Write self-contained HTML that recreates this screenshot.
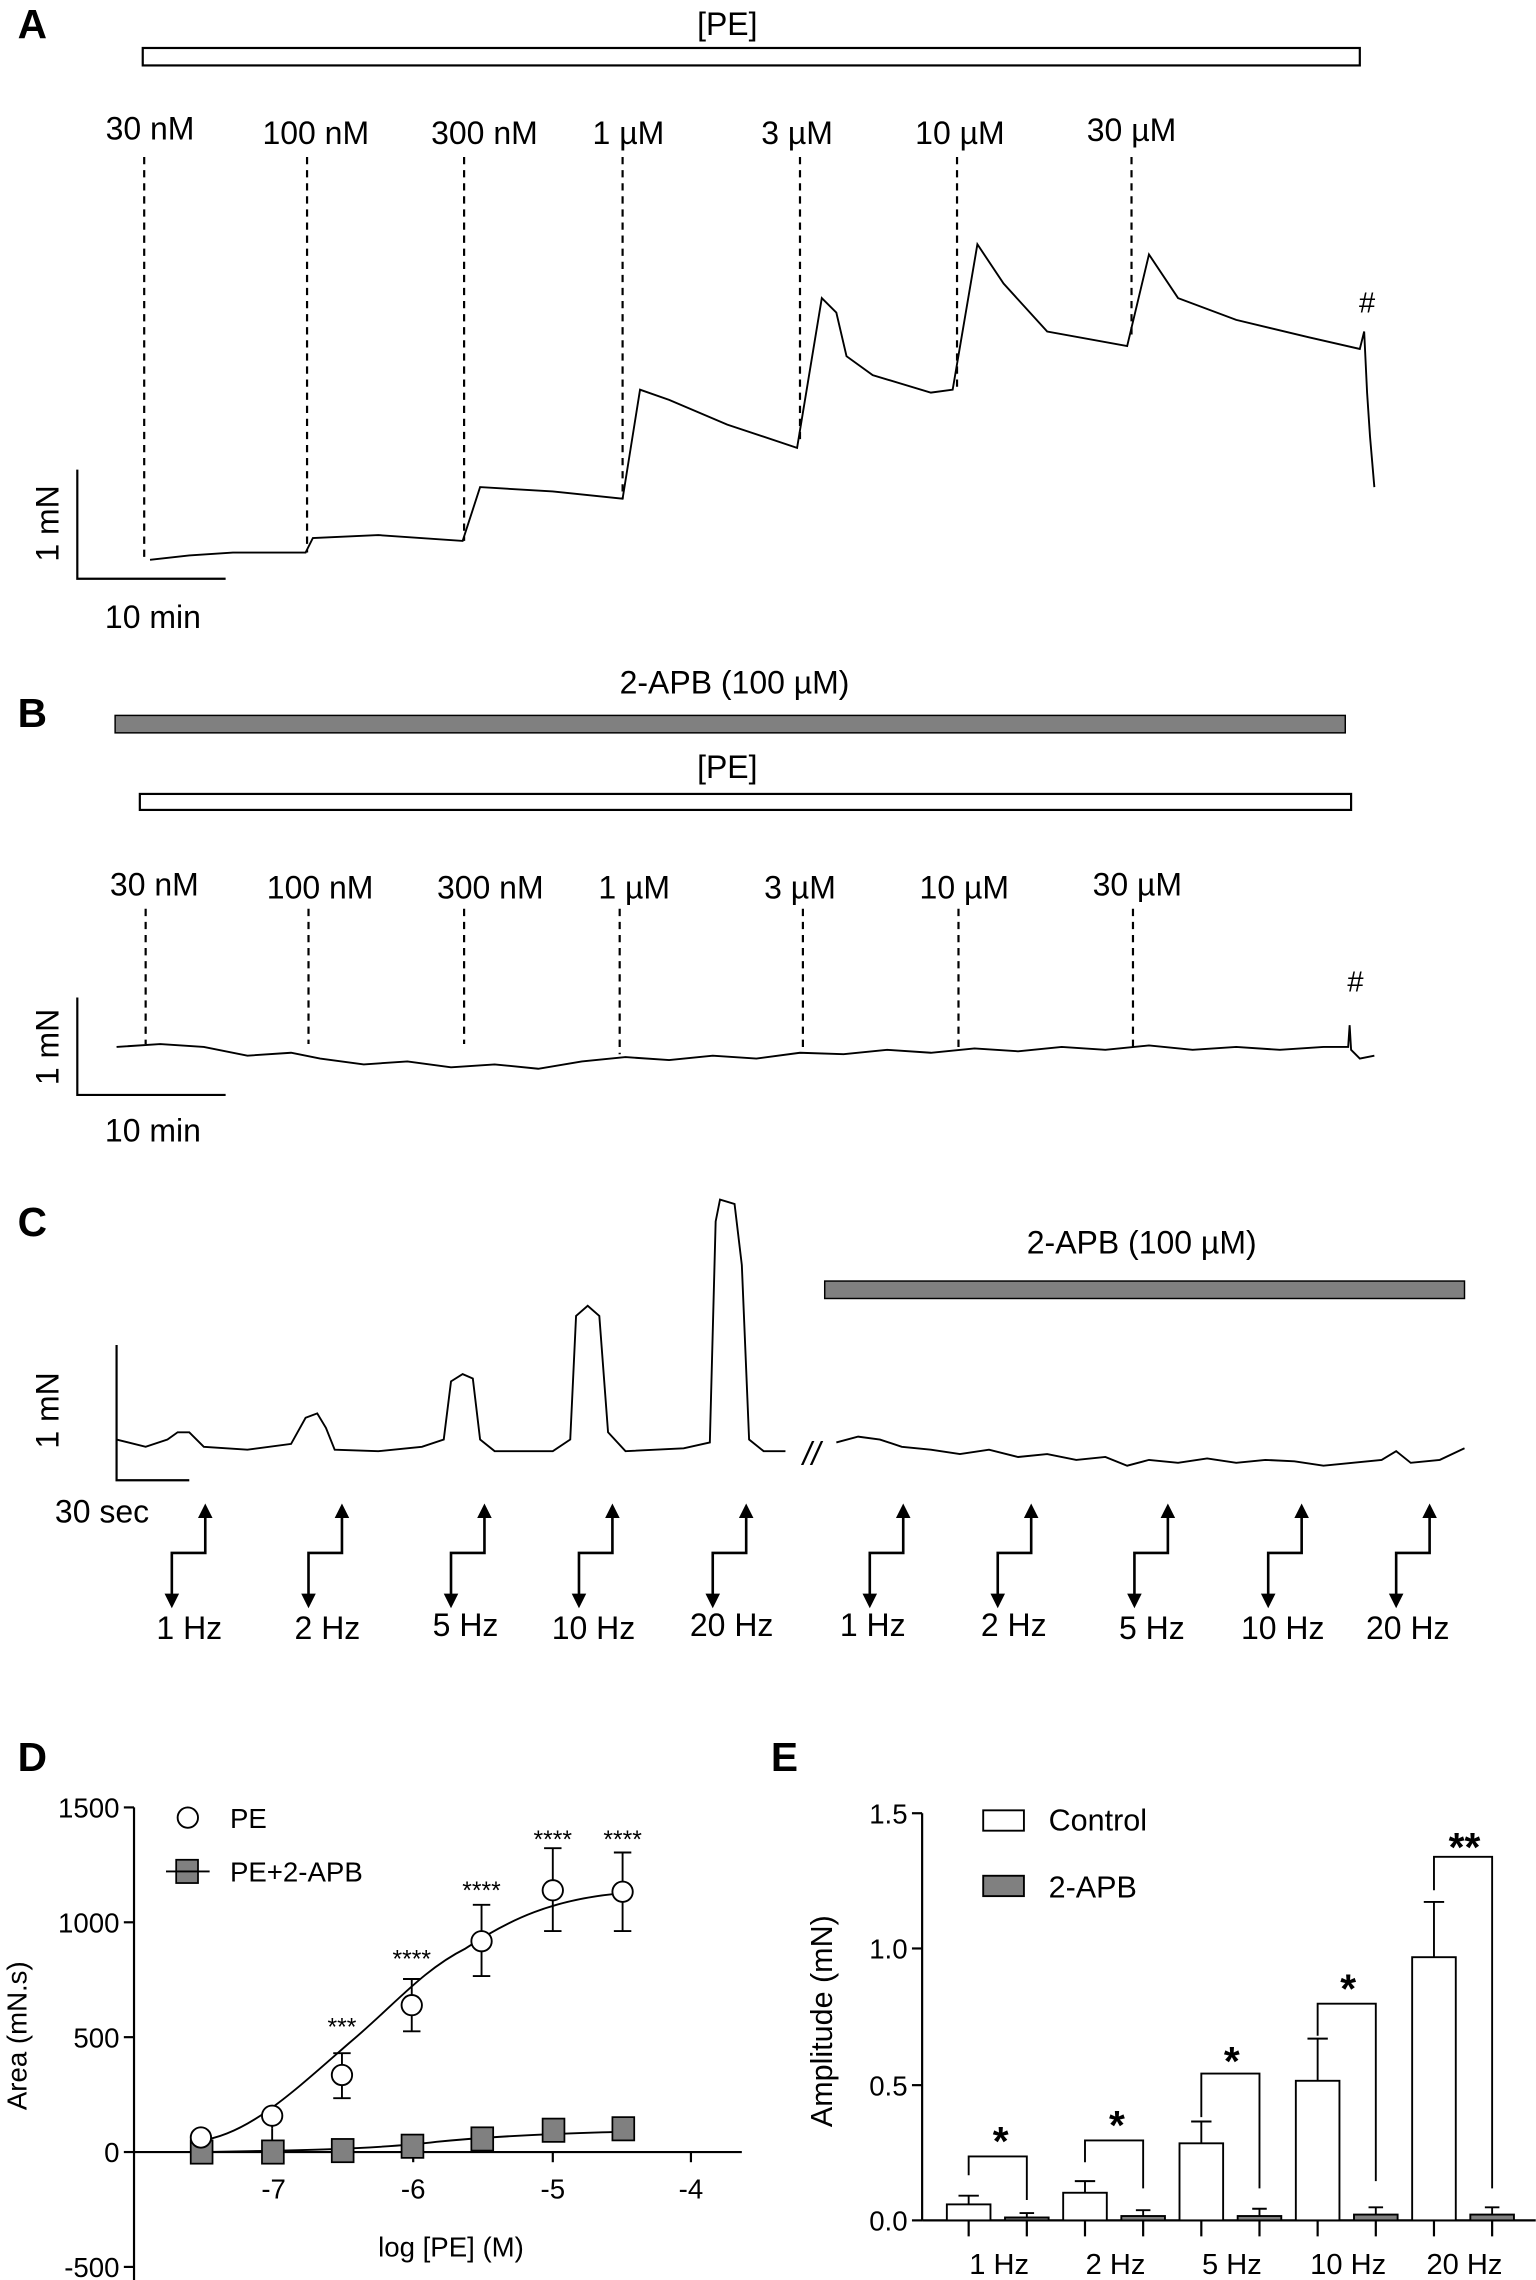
<!DOCTYPE html>
<html><head><meta charset="utf-8"><style>html,body{margin:0;padding:0;background:#fff}svg{display:block}</style></head>
<body>
<svg width="1536" height="2280" viewBox="0 0 1056 1568" xmlns="http://www.w3.org/2000/svg" font-family="Liberation Sans, sans-serif">
<g font-weight="bold" font-size="28"><text x="12" y="26">A</text><text x="12" y="500">B</text><text x="12" y="850">C</text><text x="12" y="1218">D</text><text x="530" y="1218">E</text></g>
<!-- Panel A -->
<g font-size="22" text-anchor="middle">
<text x="500" y="24">[PE]</text>
<rect x="98" y="33" width="837" height="12" fill="#fff" stroke="#000" stroke-width="1.5"/>
<text x="103" y="96">30 nM</text><text x="217" y="99">100 nM</text><text x="333" y="99">300 nM</text><text x="432" y="99">1 µM</text><text x="548" y="99">3 µM</text><text x="660" y="99">10 µM</text><text x="778" y="97">30 µM</text>
<text x="940" y="215" font-size="20">#</text>
</g>
<g stroke="#000" stroke-width="1.5" stroke-dasharray="5,4">
<line x1="99" y1="108" x2="99" y2="385"/><line x1="211" y1="108" x2="211" y2="380"/><line x1="319" y1="108" x2="319" y2="372"/><line x1="428" y1="108" x2="428" y2="343"/><line x1="550" y1="108" x2="550" y2="305"/><line x1="658" y1="108" x2="658" y2="268"/><line x1="778" y1="108" x2="778" y2="232"/>
</g>
<polyline fill="none" stroke="#000" stroke-width="1.3" points="103,385 130,382 160,380 210,380 215,370 260,368 318,372 330,335 380,338 428,343 440,268 460,275 500,292 548,308 565,205 575,215 582,245 600,258 640,270 655,268 672,168 690,195 720,228 775,238 790,175 810,205 850,220 900,232 935,240 938,228 940,270 942,300 945,335"/>
<g stroke="#000" stroke-width="1.5" fill="none"><polyline points="53,323 53,398 155,398"/></g>
<text x="40" y="360" font-size="22" text-anchor="middle" transform="rotate(-90 40 360)">1 mN</text>
<text x="105" y="432" font-size="22" text-anchor="middle">10 min</text>
<!-- Panel B -->
<g font-size="22" text-anchor="middle">
<text x="505" y="477">2-APB (100 µM)</text>
<rect x="79" y="492" width="846" height="12" fill="#808080" stroke="#000" stroke-width="1"/>
<text x="500" y="535">[PE]</text>
<rect x="96" y="546" width="833" height="11" fill="#fff" stroke="#000" stroke-width="1.5"/>
<text x="106" y="616">30 nM</text><text x="220" y="618">100 nM</text><text x="337" y="618">300 nM</text><text x="436" y="618">1 µM</text><text x="550" y="618">3 µM</text><text x="663" y="618">10 µM</text><text x="782" y="616">30 µM</text>
<text x="932" y="682" font-size="20">#</text>
</g>
<g stroke="#000" stroke-width="1.5" stroke-dasharray="5,4">
<line x1="100" y1="625" x2="100" y2="718"/><line x1="212" y1="625" x2="212" y2="718"/><line x1="319" y1="625" x2="319" y2="718"/><line x1="426" y1="625" x2="426" y2="725"/><line x1="552" y1="625" x2="552" y2="722"/><line x1="659" y1="625" x2="659" y2="722"/><line x1="779" y1="625" x2="779" y2="722"/>
</g>
<polyline fill="none" stroke="#000" stroke-width="1.3" points="80,720 110,718 140,720 170,726 200,724 220,728 250,732 280,730 310,734 340,732 370,735 400,730 430,727 460,729 490,726 520,728 550,724 580,725 610,722 640,724 670,721 700,723 730,720 760,722 790,719 820,722 850,720 880,722 910,720 927,720 928,705 929,722 935,728 945,726"/>
<polyline points="53,686 53,753 155,753" fill="none" stroke="#000" stroke-width="1.5"/>
<text x="40" y="720" font-size="22" text-anchor="middle" transform="rotate(-90 40 720)">1 mN</text>
<text x="105" y="785" font-size="22" text-anchor="middle">10 min</text>
<!-- Panel C -->
<text x="785" y="862" font-size="22" text-anchor="middle">2-APB (100 µM)</text>
<rect x="567" y="881" width="440" height="12" fill="#808080" stroke="#000" stroke-width="1"/>
<polyline fill="none" stroke="#000" stroke-width="1.3" points="80,990 100,995 115,990 122,985 130,985 140,995 170,997 200,993 210,975 218,972 224,982 230,997 260,998 290,995 305,990 310,950 318,945 325,948 330,990 340,998 380,998 392,990 396,905 404,898 412,905 418,985 430,998 470,996 488,992 492,840 495,825 505,828 510,870 515,990 525,998 540,998"/>
<text x="558" y="1007" font-size="22" text-anchor="middle" font-style="italic">//</text>
<polyline fill="none" stroke="#000" stroke-width="1.3" points="575,992 590,988 605,990 620,995 640,997 660,1000 680,997 700,1002 720,1000 740,1004 760,1002 775,1008 790,1004 810,1006 830,1003 850,1006 870,1004 890,1005 910,1008 930,1006 950,1004 960,998 970,1006 990,1004 1007,996"/>
<polyline points="80,925 80,1018 130,1018" fill="none" stroke="#000" stroke-width="1.5"/>
<text x="40" y="970" font-size="22" text-anchor="middle" transform="rotate(-90 40 970)">1 mN</text>
<text x="70" y="1047" font-size="22" text-anchor="middle">30 sec</text>
<g stroke="#000" stroke-width="1.8" fill="none">
<path id="st" d="M118,1100 V1068 H141 V1040"/>
<use href="#st" x="94"/><use href="#st" x="192"/><use href="#st" x="280"/><use href="#st" x="372"/><use href="#st" x="480"/><use href="#st" x="568"/><use href="#st" x="662"/><use href="#st" x="754"/><use href="#st" x="842"/>
</g>
<g fill="#000">
<path id="ar" d="M113,1096 L123,1096 L118,1106 Z M136,1044 L146,1044 L141,1034 Z"/>
<use href="#ar" x="94"/><use href="#ar" x="192"/><use href="#ar" x="280"/><use href="#ar" x="372"/><use href="#ar" x="480"/><use href="#ar" x="568"/><use href="#ar" x="662"/><use href="#ar" x="754"/><use href="#ar" x="842"/>
</g>
<g font-size="22" text-anchor="middle">
<text x="130" y="1127">1 Hz</text><text x="225" y="1127">2 Hz</text><text x="320" y="1125">5 Hz</text><text x="408" y="1127">10 Hz</text><text x="503" y="1125">20 Hz</text>
<text x="600" y="1125">1 Hz</text><text x="697" y="1125">2 Hz</text><text x="792" y="1127">5 Hz</text><text x="882" y="1127">10 Hz</text><text x="968" y="1127">20 Hz</text>
</g>
<!-- Panel D -->
<g stroke="#000" stroke-width="1.5">
<line x1="92" y1="1243" x2="92" y2="1568"/>
<line x1="85" y1="1243" x2="92" y2="1243"/><line x1="85" y1="1322" x2="92" y2="1322"/><line x1="85" y1="1401" x2="92" y2="1401"/><line x1="85" y1="1480" x2="92" y2="1480"/><line x1="85" y1="1559" x2="92" y2="1559"/>
<line x1="92" y1="1480" x2="510" y2="1480"/>
<line x1="188" y1="1480" x2="188" y2="1487"/><line x1="284" y1="1480" x2="284" y2="1487"/><line x1="380" y1="1480" x2="380" y2="1487"/><line x1="475" y1="1480" x2="475" y2="1487"/>
</g>
<g font-size="19" text-anchor="end"><text x="82" y="1250">1500</text><text x="82" y="1329">1000</text><text x="82" y="1408">500</text><text x="82" y="1487">0</text><text x="82" y="1566">-500</text></g>
<g font-size="19" text-anchor="middle"><text x="188" y="1512">-7</text><text x="284" y="1512">-6</text><text x="380" y="1512">-5</text><text x="475" y="1512">-4</text></g>
<text x="310" y="1552" font-size="19" text-anchor="middle">log [PE] (M)</text>
<text x="18" y="1400" font-size="19" text-anchor="middle" transform="rotate(-90 18 1400)">Area (mN.s)</text>
<g stroke="#000" stroke-width="1.3" fill="none">
<path d="M138,1472 C170,1468 200,1440 240,1405 C270,1380 290,1355 320,1340 C350,1320 380,1306 428,1302"/>
<path d="M138,1480 C200,1479 260,1478 300,1473 C350,1468 400,1467 428,1466"/>
<path d="M187,1464 V1455 M181,1455 H193 M235,1427 V1412 M229,1412 H241 M283,1379 V1361 M277,1361 H289 M331,1335 V1310 M325,1310 H337 M380,1300 V1271 M374,1271 H386 M428,1301 V1274 M422,1274 H434"/>
<path d="M187,1464 V1473 M181,1473 H193 M235,1427 V1443 M229,1443 H241 M283,1379 V1397 M277,1397 H289 M331,1335 V1359 M325,1359 H337 M380,1300 V1328 M374,1328 H386 M428,1301 V1328 M422,1328 H434"/>
</g>
<g fill="#808080" stroke="#000" stroke-width="1.2">
<rect x="131" y="1472" width="15" height="16"/><rect x="180" y="1472" width="15" height="16"/><rect x="228" y="1471" width="15" height="16"/><rect x="276" y="1468" width="15" height="16"/><rect x="324" y="1463" width="15" height="16"/><rect x="373" y="1457" width="15" height="16"/><rect x="421" y="1456" width="15" height="16"/>
<rect x="121" y="1279" width="15" height="16"/>
</g>
<g fill="#fff" stroke="#000" stroke-width="1.3">
<circle cx="138" cy="1470" r="7"/><circle cx="187" cy="1455" r="7"/><circle cx="235" cy="1427" r="7"/><circle cx="283" cy="1379" r="7"/><circle cx="331" cy="1335" r="7"/><circle cx="380" cy="1300" r="7"/><circle cx="428" cy="1301" r="7"/>
<circle cx="129" cy="1250" r="7"/>
</g>
<line x1="114" y1="1287" x2="144" y2="1287" stroke="#000" stroke-width="1.3"/>
<text x="158" y="1257" font-size="19">PE</text><text x="158" y="1294" font-size="19">PE+2-APB</text>
<g font-size="17" text-anchor="middle"><text x="235" y="1400">***</text><text x="283" y="1353">****</text><text x="331" y="1306">****</text><text x="380" y="1271">****</text><text x="428" y="1271">****</text></g>
<!-- Panel E -->
<g stroke="#000" stroke-width="1.5">
<line x1="634" y1="1247" x2="634" y2="1527"/>
<line x1="627" y1="1247" x2="634" y2="1247"/><line x1="627" y1="1340" x2="634" y2="1340"/><line x1="627" y1="1434" x2="634" y2="1434"/><line x1="627" y1="1527" x2="634" y2="1527"/>
<line x1="634" y1="1527" x2="1056" y2="1527"/>
<path d="M666,1527 V1538 M706,1527 V1538 M746,1527 V1538 M786,1527 V1538 M826,1527 V1538 M866,1527 V1538 M906,1527 V1538 M946,1527 V1538 M986,1527 V1538 M1026,1527 V1538"/>
</g>
<g font-size="19" text-anchor="end"><text x="624" y="1254">1.5</text><text x="624" y="1347">1.0</text><text x="624" y="1441">0.5</text><text x="624" y="1534">0.0</text></g>
<text x="572" y="1390" font-size="21" text-anchor="middle" transform="rotate(-90 572 1390)">Amplitude (mN)</text>
<g stroke="#000" stroke-width="1.3" fill="#fff">
<rect x="651" y="1516" width="30" height="11"/><rect x="731" y="1508" width="30" height="19"/><rect x="811" y="1474" width="30" height="53"/><rect x="891" y="1431" width="30" height="96"/><rect x="971" y="1346" width="30" height="181"/>
</g>
<g stroke="#000" stroke-width="1.3" fill="#808080">
<rect x="691" y="1525" width="30" height="2"/><rect x="771" y="1524" width="30" height="3"/><rect x="851" y="1524" width="30" height="3"/><rect x="931" y="1523" width="30" height="4"/><rect x="1011" y="1523" width="30" height="4"/>
</g>
<g stroke="#000" stroke-width="1.3" fill="none">
<path d="M666,1516 V1510 M659,1510 H673 M746,1508 V1500 M739,1500 H753 M826,1474 V1459 M819,1459 H833 M906,1431 V1402 M899,1402 H913 M986,1346 V1308 M979,1308 H993"/>
<path d="M706,1525 V1522 M701,1522 H711 M786,1524 V1520 M781,1520 H791 M866,1524 V1519 M861,1519 H871 M946,1523 V1518 M941,1518 H951 M1026,1523 V1518 M1021,1518 H1031"/>
<path d="M666,1496 V1483 H706 V1513 M746,1487 V1472 H786 V1505 M826,1456 V1426 H866 V1505 M906,1400 V1378 H946 V1500 M986,1300 V1277 H1026 V1505"/>
</g>
<g font-size="28" font-weight="bold" text-anchor="middle"><text x="688" y="1482">*</text><text x="768" y="1471">*</text><text x="847" y="1427">*</text><text x="927" y="1377">*</text><text x="1007" y="1280">**</text></g>
<g font-size="20" text-anchor="middle"><text x="687" y="1564">1 Hz</text><text x="767" y="1564">2 Hz</text><text x="847" y="1564">5 Hz</text><text x="927" y="1564">10 Hz</text><text x="1007" y="1564">20 Hz</text></g>
<rect x="676" y="1245" width="28" height="14" fill="#fff" stroke="#000" stroke-width="1.3"/>
<rect x="676" y="1290" width="28" height="14" fill="#808080" stroke="#000" stroke-width="1.3"/>
<text x="721" y="1259" font-size="21">Control</text><text x="721" y="1305" font-size="21">2-APB</text>
</svg>
</body></html>
